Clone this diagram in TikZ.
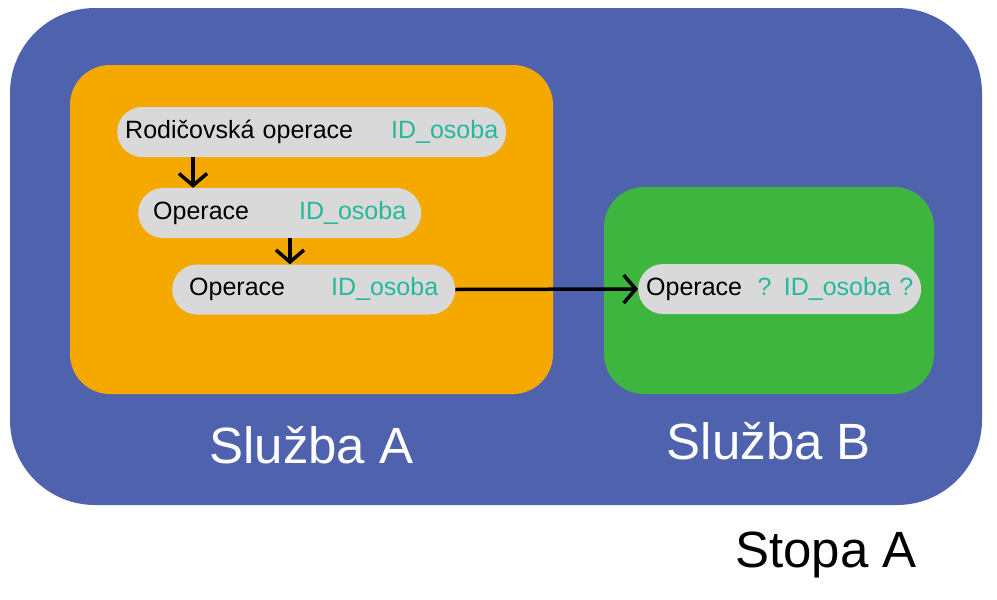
\documentclass[tikz,border=0pt]{standalone}
\usepackage{fontspec}
\setmainfont{Liberation Sans}
\usepackage{xcolor}
\usepackage{tikz}
\usetikzlibrary{positioning,arrows.meta,calc}
\definecolor{stopablue}{HTML}{4F62AD}
\definecolor{svcorange}{HTML}{F4A800}
\definecolor{svcgreen}{HTML}{3DB53F}
\definecolor{pillgrey}{HTML}{D9D9D9}
\definecolor{idteal}{HTML}{26B89C}
\newcommand{\pillfont}{\fontsize{25}{29}\selectfont}
\newcommand{\lblfont}{\fontsize{51}{58}\selectfont}
\newcommand{\idtxt}[1]{\textcolor{idteal}{#1}}
\tikzset{
  block/.style = {rounded corners=40pt, inner sep=0pt},
  pill/.style  = {rounded corners=25pt, fill=pillgrey, minimum height=50pt,
                  inner xsep=15pt, inner ysep=0pt, font=\pillfont, anchor=west},
  lbl/.style   = {font=\lblfont, text=white, inner sep=0pt},
  arr/.style   = {-{Straight Barb[length=12pt,width=28pt]}, line width=3.5pt},
}

\begin{document}
\begin{tikzpicture}[x=1pt, y=-1pt]
  \useasboundingbox (0,0) rectangle (997,600);

  % --- trace and services ---
  \node[block, fill=stopablue, rounded corners=85pt,
        minimum width=972pt, minimum height=497pt] (stopa) at (496,256.5) {};
  \node[block, fill=svcorange, minimum width=483pt, minimum height=329pt] (svcA) at (311.5,229.5) {};
  \node[block, fill=svcgreen,  minimum width=330pt, minimum height=207pt] (svcB) at (769,290.5) {};

  \node[lbl] (lblA) at ([yshift=-51pt]svcA.south) {Služba A};
  \node[lbl] (lblB) at ([yshift=-47pt]svcB.south) {Služba B};
  \node[lbl, text=black] (lblS) at ([xshift=330pt, yshift=-50pt]stopa.south) {Stopa A};

  % --- operations ---
  \node[pill, inner xsep=8pt, text width=373pt] (op0) at (117,132)
    {Rodičovská operace\hfill\idtxt{ID\_osoba}};
  \node[pill, text width=253pt] (op1) at (138,213)
    {Operace\hfill\idtxt{ID\_osoba}};
  \node[pill, inner xsep=17pt, text width=249pt] (op2) at (172,289.5)
    {Operace\hfill\idtxt{ID\_osoba}};
  \node[pill, inner xsep=8pt, text width=267pt] (op3) at (638,289)
    {Operace\hfill\idtxt{? ID\_osoba ?}};

  \coordinate (k1) at (193,0);
  \coordinate (k2) at (290,0);
  \draw[arr] (op0.south -| k1) -- (op1.north -| k1);
  \draw[arr] (op1.south -| k2) -- (op2.north -| k2);
  \draw[arr] (op2.east) -- (op3.west);
\end{tikzpicture}
\end{document}
